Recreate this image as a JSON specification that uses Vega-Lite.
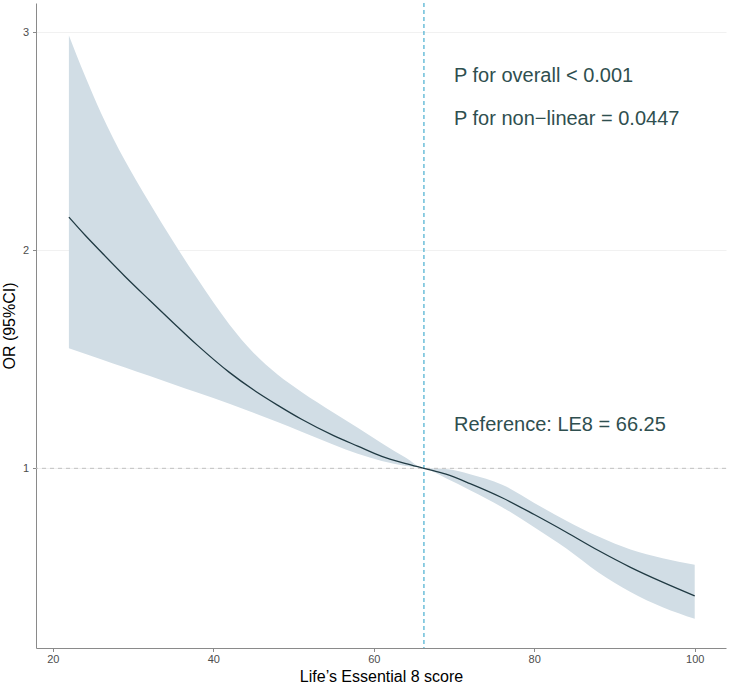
{
  "$schema": "https://vega.github.io/schema/vega-lite/v6.json",
  "width": 690,
  "height": 645,
  "autosize": {"type": "none"},
  "padding": {"left": 36, "top": 3, "right": 3, "bottom": 37},
  "config": {
    "view": {"stroke": null},
    "font": "Liberation Sans",
    "axis": {
      "domainColor": "#8a8a8a",
      "tickColor": "#8a8a8a",
      "tickSize": 3.5,
      "labelColor": "#4d4d4d",
      "labelFontSize": 11,
      "titleColor": "#000000",
      "titleFontSize": 16,
      "titleFontWeight": "normal"
    }
  },
  "datasets": {
    "curve": [
      {"x": 22, "or": 2.152, "lower": 1.551, "upper": 2.985},
      {"x": 24, "or": 2.07, "lower": 1.525, "upper": 2.8},
      {"x": 26, "or": 1.993, "lower": 1.5, "upper": 2.63},
      {"x": 29, "or": 1.88, "lower": 1.462, "upper": 2.41},
      {"x": 32, "or": 1.773, "lower": 1.424, "upper": 2.22},
      {"x": 35, "or": 1.668, "lower": 1.386, "upper": 2.04},
      {"x": 38, "or": 1.565, "lower": 1.348, "upper": 1.87},
      {"x": 42, "or": 1.44, "lower": 1.296, "upper": 1.66},
      {"x": 45, "or": 1.36, "lower": 1.255, "upper": 1.53},
      {"x": 48, "or": 1.29, "lower": 1.212, "upper": 1.43},
      {"x": 51, "or": 1.225, "lower": 1.168, "upper": 1.35},
      {"x": 55, "or": 1.15, "lower": 1.108, "upper": 1.255},
      {"x": 58, "or": 1.102, "lower": 1.067, "upper": 1.186},
      {"x": 61, "or": 1.055, "lower": 1.034, "upper": 1.115},
      {"x": 64, "or": 1.022, "lower": 1.011, "upper": 1.048},
      {"x": 66.25, "or": 1, "lower": 1, "upper": 1},
      {"x": 69, "or": 0.973, "lower": 0.955, "upper": 0.997},
      {"x": 72, "or": 0.93, "lower": 0.9, "upper": 0.973},
      {"x": 76, "or": 0.865, "lower": 0.822, "upper": 0.925},
      {"x": 80, "or": 0.788, "lower": 0.73, "upper": 0.841},
      {"x": 84, "or": 0.707, "lower": 0.632, "upper": 0.76},
      {"x": 88, "or": 0.623, "lower": 0.522, "upper": 0.687},
      {"x": 92, "or": 0.546, "lower": 0.433, "upper": 0.628},
      {"x": 96, "or": 0.478, "lower": 0.363, "upper": 0.588},
      {"x": 100, "or": 0.415, "lower": 0.31, "upper": 0.558}
    ],
    "refs": [{"x": 66.25, "y": 1}],
    "notes": [
      {"x": 70, "y": 2.8, "label": "P for overall < 0.001"},
      {"x": 70, "y": 2.6, "label": "P for non−linear = 0.0447"},
      {"x": 70, "y": 1.2, "label": "Reference: LE8 = 66.25"}
    ]
  },
  "encoding": {
    "x": {
      "field": "x",
      "type": "quantitative",
      "scale": {"domain": [17.9, 103.9], "nice": false, "zero": false},
      "axis": {
        "title": "Life’s Essential 8 score",
        "values": [20, 40, 60, 80, 100],
        "grid": false,
        "labelPadding": 2,
        "titlePadding": 4
      }
    }
  },
  "layer": [
    {
      "data": {"name": "curve"},
      "mark": {"type": "area", "color": "#d1dde5", "interpolate": "monotone"},
      "encoding": {
        "y": {
          "field": "lower",
          "type": "quantitative",
          "scale": {"domain": [0.176, 3.134], "nice": false, "zero": false},
          "axis": {
            "title": "OR (95%CI)",
            "values": [1, 2, 3],
            "format": "d",
            "grid": true,
            "gridColor": "#eeeeee",
            "gridWidth": 0.8,
            "labelPadding": 4,
            "titlePadding": 5
          }
        },
        "y2": {"field": "upper"}
      }
    },
    {
      "data": {"name": "refs"},
      "mark": {"type": "rule", "color": "#c0c0c0", "strokeDash": [4, 4], "strokeWidth": 1},
      "encoding": {"x": null, "y": {"field": "y", "type": "quantitative"}}
    },
    {
      "data": {"name": "refs"},
      "mark": {"type": "rule", "color": "#56b4d3", "strokeDash": [4, 3], "strokeWidth": 1.3},
      "encoding": {}
    },
    {
      "data": {"name": "curve"},
      "mark": {"type": "line", "color": "#203a43", "strokeWidth": 1.3, "interpolate": "monotone"},
      "encoding": {"y": {"field": "or", "type": "quantitative"}}
    },
    {
      "data": {"name": "notes"},
      "mark": {"type": "text", "align": "left", "baseline": "middle", "fontSize": 20, "color": "#2f4f4f"},
      "encoding": {
        "y": {"field": "y", "type": "quantitative"},
        "text": {"field": "label"}
      }
    }
  ]
}
